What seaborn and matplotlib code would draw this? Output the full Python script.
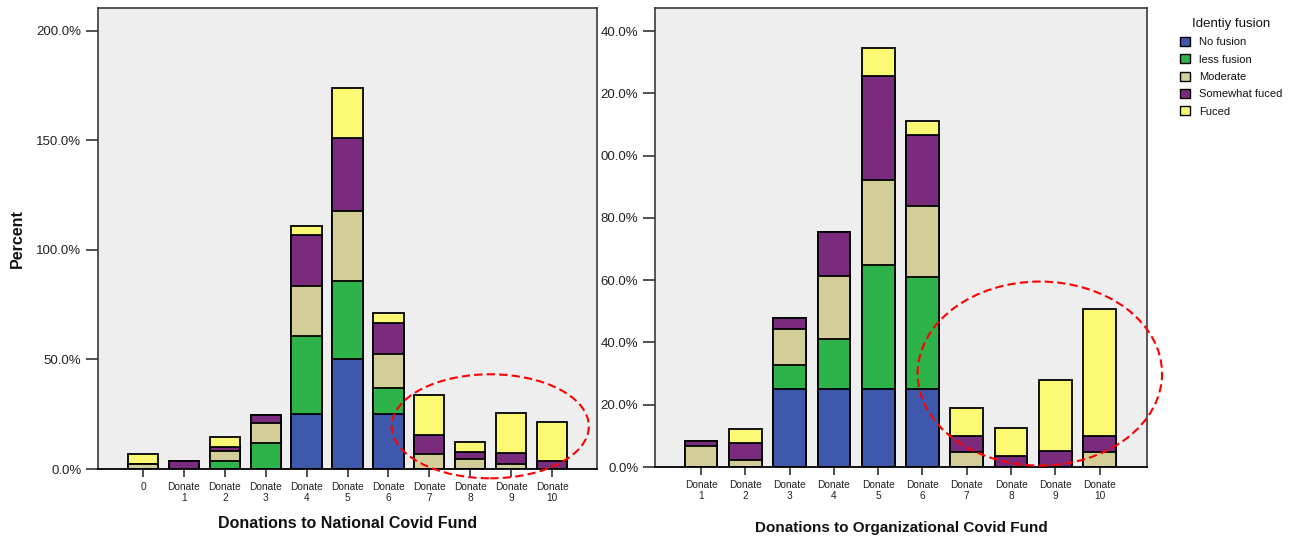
import numpy as np
import pandas as pd
import matplotlib
matplotlib.use('Agg')
import matplotlib.pyplot as plt
from matplotlib.patches import Ellipse, Patch
import seaborn as sns

# categories
national_cats = ['0'] + [f'Donate\n{i}' for i in range(1, 11)]
org_cats = [f'Donate\n{i}' for i in range(1, 11)]

fusion_levels = ['No fusion', 'less fusion', 'Moderate', 'Somewhat fuced', 'Fuced']

# percent values (national fund)
nat_no = [0, 0, 0, 0, 25, 50, 25, 0, 0, 0, 0]
nat_less = [0, 0, 3.8, 12, 35.7, 35.8, 12.1, 0, 0, 0, 0]
nat_mod = [2.3, 0, 4.6, 9, 22.9, 32, 15.5, 6.9, 4.4, 2.1, 0]
nat_some = [0, 3.7, 1.8, 3.8, 23.1, 33.2, 14.1, 8.6, 3.5, 5.3, 3.5]
nat_fuc = [4.6, 0, 4.6, 0, 4.4, 22.8, 4.7, 18.3, 4.6, 18.3, 18.1]

# organizational fund
org_no = [0, 0, 25, 25, 25, 25, 0, 0, 0, 0]
org_less = [0, 0, 7.9, 16, 39.9, 36, 0, 0, 0, 0]
org_mod = [6.6, 2.3, 11.4, 20.4, 27.3, 22.7, 4.7, 0, 0, 4.7]
org_some = [1.9, 5.3, 3.6, 14.2, 33.4, 22.8, 5.1, 3.5, 5.2, 5.1]
org_fuc = [0, 4.5, 0, 0, 9.1, 4.6, 9.1, 9.1, 22.8, 40.9]

# tick labels as shown (right axis labels are cut off in the original)
left_yticks = [0, 50, 100, 150, 200]
left_yticklabels = ['0.0%', '50.0%', '100.0%', '150.0%', '200.0%']
right_yticks = [0, 20, 40, 60, 80, 100, 120, 140]
right_yticklabels = ['0.0%', '20.0%', '40.0%', '60.0%', '80.0%', '00.0%', '20.0%', '40.0%']

colors = ['#3E58AC', '#2DB34A', '#D3CE97', '#7B2B7D', '#FBF873']

sns.set_style('white')
plt.rcParams['font.family'] = ['Liberation Sans', 'DejaVu Sans']
plt.rcParams['text.color'] = '#111111'
plt.rcParams['axes.labelcolor'] = '#111111'
plt.rcParams['xtick.color'] = '#222222'
plt.rcParams['ytick.color'] = '#222222'


def stacked(ax, cats, layers):
    """draw stacked bars: tallest cumulative first, then the ones below on top"""
    cum = np.cumsum(np.array(layers), axis=0)
    for k in range(len(layers) - 1, -1, -1):
        df = pd.DataFrame({'cat': cats, 'pct': cum[k]})
        sns.barplot(data=df, x='cat', y='pct', order=cats, color=colors[k],
                    saturation=1, edgecolor='black', linewidth=1.3,
                    width=0.74, ax=ax, zorder=2)


def style_axis(ax):
    ax.set_facecolor('#EEEEEE')
    for s in ['top', 'left', 'right']:
        ax.spines[s].set_color('#3a3a3a')
        ax.spines[s].set_linewidth(1.2)
    ax.spines['bottom'].set_color('black')
    ax.spines['bottom'].set_linewidth(1.3)
    ax.tick_params(axis='y', direction='out', length=9, width=1.2, color='#333',
                   labelsize=9.5, pad=3, left=True)
    ax.tick_params(axis='x', direction='out', length=6, width=1.2, color='#333',
                   labelsize=7.3, pad=3, bottom=True)


fig = plt.figure(figsize=(13.11, 5.36), dpi=100)
ax1 = fig.add_axes([98 / 1311, 67 / 536, 499 / 1311, 461 / 536])
ax2 = fig.add_axes([655 / 1311, 69 / 536, 492 / 1311, 459 / 536])

stacked(ax1, national_cats, [nat_no, nat_less, nat_mod, nat_some, nat_fuc])
stacked(ax2, org_cats, [org_no, org_less, org_mod, org_some, org_fuc])

for ax in (ax1, ax2):
    style_axis(ax)

ax1.set_xlim(-1.1, 11.1)
ax1.set_ylim(0, 210.5)
ax1.set_yticks(left_yticks)
ax1.set_yticklabels(left_yticklabels)
ax1.set_ylabel('Percent', fontsize=11.5, fontweight='bold', labelpad=8)
ax1.set_xlabel('Donations to National Covid Fund', fontsize=11.5,
               fontweight='bold', labelpad=9)

ax2.set_xlim(-1.04, 10.07)
ax2.set_ylim(0, 147.4)
ax2.set_yticks(right_yticks)
ax2.set_yticklabels(right_yticklabels)
ax2.set_ylabel('')
ax2.set_xlabel('Donations to Organizational Covid Fund', fontsize=11,
               fontweight='bold', labelpad=14)

# red dashed highlight ellipses
ax1.add_patch(Ellipse((8.49, 19.5), 4.82, 47.5, fill=False, edgecolor='red',
                      linestyle=(0, (4, 2)), linewidth=1.5, clip_on=False, zorder=5))
ax2.add_patch(Ellipse((7.65, 30), 5.52, 59.1, fill=False, edgecolor='red',
                      linestyle=(0, (4, 2)), linewidth=1.5, clip_on=False, zorder=5))

handles = [Patch(facecolor=c, edgecolor='black', linewidth=1.0) for c in colors]
leg = fig.legend(handles, fusion_levels, title='Identiy fusion',
                 loc='upper left', bbox_to_anchor=(1170 / 1311, 1 - 8 / 536),
                 frameon=False, fontsize=8, title_fontsize=9.5,
                 handlelength=0.9, handleheight=0.9, handletextpad=0.8,
                 labelspacing=0.62)

fig.savefig('out.png', dpi=100)
